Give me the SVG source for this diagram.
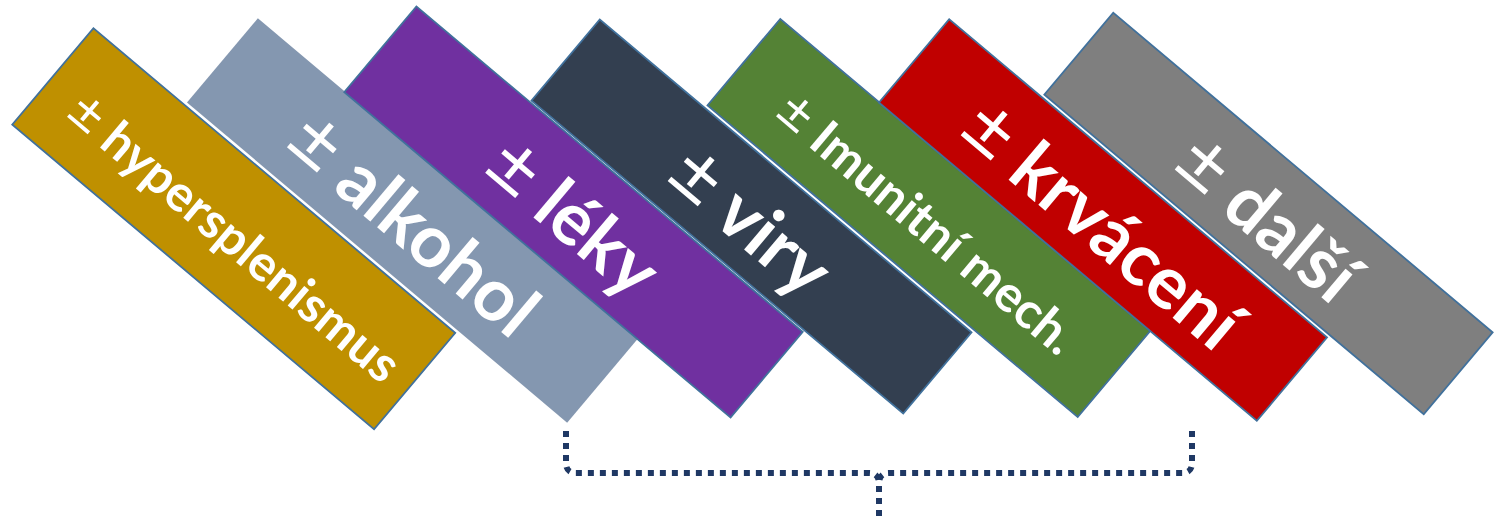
<svg xmlns="http://www.w3.org/2000/svg" width="1506" height="516" viewBox="0 0 1506 516">
<style>
.box{stroke:#41719C;stroke-width:1.8}
.nb{stroke:none}
.t{font-family:Lato,"Liberation Sans",sans-serif;font-weight:bold;fill:#FFFFFF;text-anchor:middle}
.pm{font-weight:normal;font-size:1.12em}
.big{font-size:73px}
.sm{font-size:50px}
.brace{fill:none;stroke:#1F3864;stroke-width:6;stroke-dasharray:6 6}
</style>
<rect width="1506" height="516" fill="#FFFFFF"/>
<g id="alkohol" transform="translate(412.5,220.5) rotate(40.1)">
<rect class="nb" x="-248.5" y="-55" width="497" height="110" fill="#8497B0"/>
<text class="t big" x="3" y="28"><tspan class="pm">±</tspan> alkohol</text>
</g>
<g id="hypersplenismus" transform="translate(233.75,228.75) rotate(40.1)">
<rect class="box" x="-236.5" y="-63" width="473" height="126" fill="#BF9000"/>
<text class="t sm" x="6" y="24"><tspan class="pm">±</tspan> hypersplenismus</text>
</g>
<g id="leky" transform="translate(573.5,212) rotate(40.1)">
<rect class="box" x="-252.5" y="-56" width="505" height="112" fill="#7030A0"/>
<text class="t big" x="3" y="30"><tspan class="pm">±</tspan> léky</text>
</g>
<g id="viry" transform="translate(751.5,216.5) rotate(40.1)">
<rect class="box" x="-243" y="-53" width="486" height="106" fill="#333F50"/>
<text class="t big" x="2" y="30"><tspan class="pm">±</tspan> viry</text>
</g>
<g id="imunitni" transform="translate(929,218) rotate(40.1)">
<rect class="box" x="-242" y="-56.5" width="484" height="113" fill="#548235"/>
<text class="t sm" x="2" y="23"><tspan class="pm">±</tspan> Imunitní mech.</text>
</g>
<g id="krvaceni" transform="translate(1103,220) rotate(40.1)">
<rect class="box" x="-247" y="-54.5" width="494" height="109" fill="#C00000"/>
<text class="t big" x="2" y="30"><tspan class="pm">±</tspan> krvácení</text>
</g>
<g id="dalsi" transform="translate(1268.5,213.5) rotate(40.1)">
<rect class="box" x="-248" y="-53.5" width="496" height="107" fill="#7F7F7F"/>
<text class="t big" x="2" y="30"><tspan class="pm">±</tspan> další</text>
</g>
<g id="connectors">
<path class="brace" d="M566,431 V463 Q566,473 576,473 H869 Q879,473 879,484 V516"/>
<path class="brace" d="M1192,431 V463 Q1192,473 1182,473 H889 Q879,473 879,484"/>
</g>
</svg>
